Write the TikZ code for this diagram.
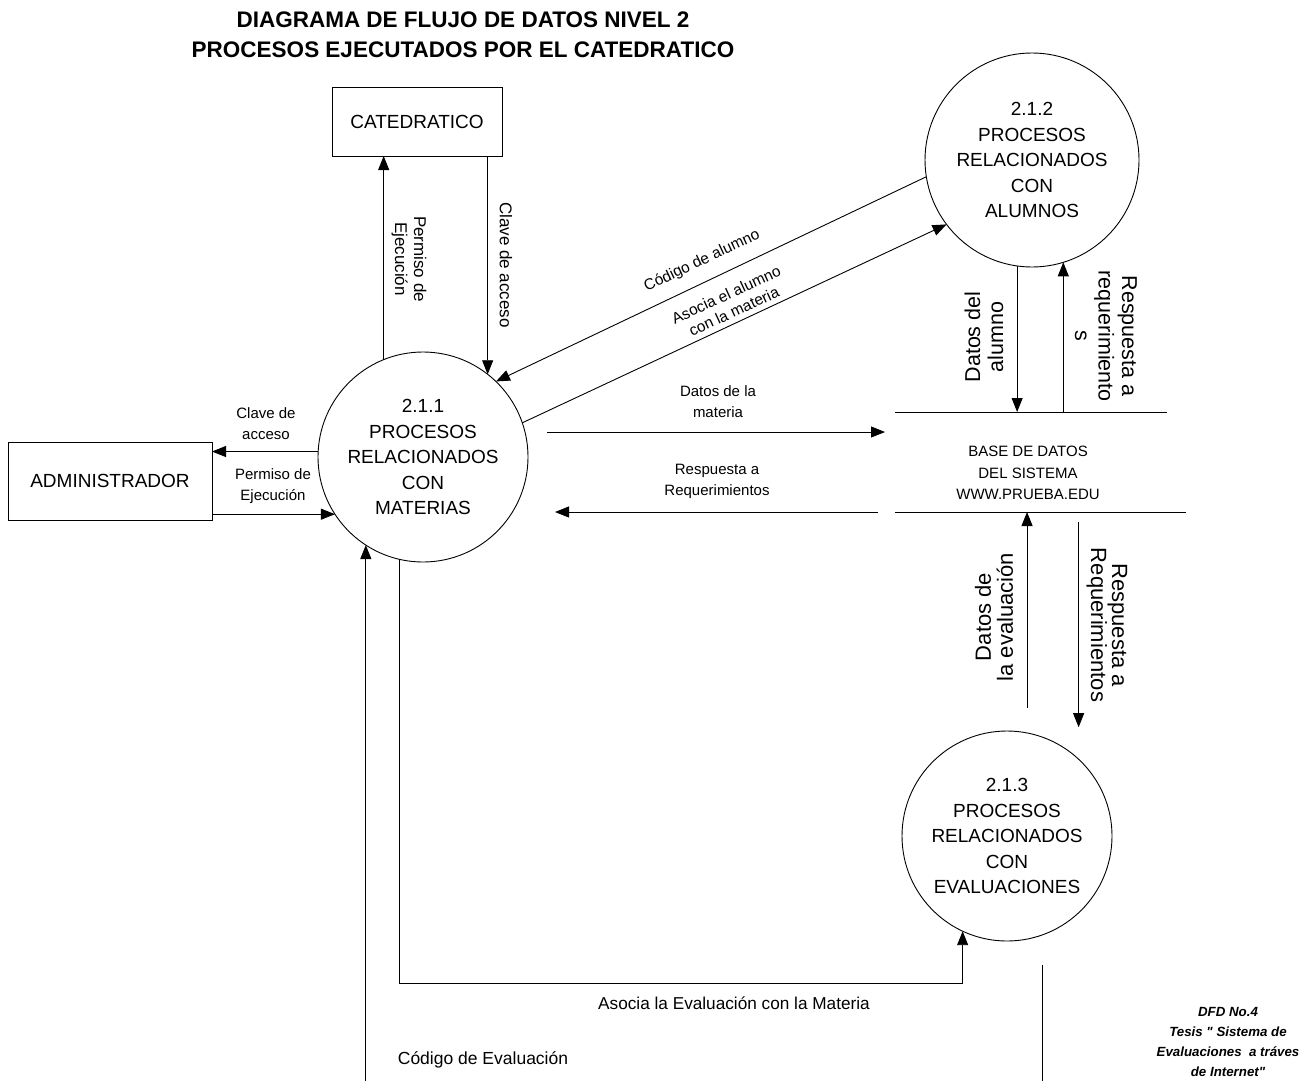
\documentclass[tikz,border=0pt]{standalone}
\usepackage{fontspec}
\setmainfont{Liberation Sans}
% plain family without TeX ligature mapping, so that " stays a straight quote
\newfontfamily\notefont{Liberation Sans}
\usetikzlibrary{arrows.meta}
\begin{document}
\begin{tikzpicture}[x=1pt,y=-1pt,
  flow/.style={line width=0.9pt,-{Triangle[length=14pt,width=11pt]}},
  plain/.style={line width=0.9pt},
  entity/.style={draw,line width=0.9pt,inner sep=0pt,outer sep=0pt,
    font=\fontsize{19}{23}\selectfont},
  proc/.style={draw,circle,line width=0.9pt,inner sep=0pt,outer sep=0pt,
    align=center,font=\fontsize{19}{25.5}\selectfont},
  lbl/.style={inner sep=0pt,align=center},
  small/.style={lbl,font=\fontsize{15}{21}\selectfont},
  mid/.style={lbl,font=\fontsize{17}{19}\selectfont},
  big/.style={lbl,font=\fontsize{21.5}{23}\selectfont}]
\useasboundingbox (0,0) rectangle (1313,1081);

% title
\node[lbl,font=\fontsize{22.5}{30}\selectfont\bfseries] (title) at (463,35)
  {DIAGRAMA DE FLUJO DE DATOS NIVEL 2\\PROCESOS EJECUTADOS POR EL CATEDRATICO};

% external entities
\node[entity,minimum width=170pt,minimum height=69pt] (cat) at (417,121.5) {CATEDRATICO};
\node[entity,minimum width=204pt,minimum height=78pt] (adm) at (110,481) {ADMINISTRADOR};

% processes
\node[proc,minimum size=210pt] (c211) at (423,457) {2.1.1\\PROCESOS\\RELACIONADOS\\CON\\MATERIAS};
\node[proc,minimum size=214pt] (c212) at (1032,160) {2.1.2\\PROCESOS\\RELACIONADOS\\CON\\ALUMNOS};
\node[proc,minimum size=210pt] (c213) at (1007,836) {2.1.3\\PROCESOS\\RELACIONADOS\\CON\\EVALUACIONES};

% data store
\node[inner sep=0pt,outer sep=0pt,minimum width=291pt,minimum height=100pt] (store) at (1040.5,462) {};
\draw[plain] (store.north west) -- ++(272,0);
\draw[plain] (store.south west) -- (store.south east);
\node[lbl,font=\fontsize{15}{21.5}\selectfont] (storelbl) at (1028,473)
  {BASE DE DATOS\\DEL SISTEMA\\WWW.PRUEBA.EDU};

% catedratico <-> 2.1.1
\draw[flow] (c211.112.4) -- (c211.112.4 |- cat.south);
\draw[flow] (cat.south -| c211.52.45) -- (c211.52.45);
\node[mid,rotate=-90] (lpe1) at (409,259) {Permiso de\\Ejecución};
\node[mid,rotate=-90] (lca1) at (506,265) {Clave de acceso};

% administrador <-> 2.1.1
\draw[flow] (c211.177.8) -- (c211.177.8 -| adm.east);
\draw[flow] (adm.east |- c211.213.5) -- (c211.213.5);
\node[small] (lca2) at (266,424) {Clave de\\acceso};
\node[small] (lpe2) at (273,486) {Permiso de\\Ejecución};

% 2.1.1 <-> data store
\draw[flow,shorten <=19pt,shorten >=10pt] (c211.east |- 0,432) -- (store.west |- 0,432);
\draw[flow,shorten <=17pt,shorten >=27pt] (store.south west) -- (store.south west -| c211.east);
\node[small] (ldm) at (718,402) {Datos de la\\materia};
\node[small] (lrr1) at (717,481) {Respuesta a\\Requerimientos};

% 2.1.1 <-> 2.1.2
\draw[flow] (c212.189) -- (c211.46.5);
\draw[flow] (c211.19.3) -- (c212.217.2);
\node[lbl,rotate=25.3,font=\fontsize{15.5}{20}\selectfont] (lcal) at (702,261) {Código de alumno};
\node[lbl,rotate=24.8,font=\fontsize{15.5}{18.5}\selectfont] (laam) at (730,303) {Asocia el alumno\\con la materia};

% 2.1.2 <-> data store
\draw[flow] (c212.262) -- (c212.262 |- store.north);
\draw[flow] (store.north -| c212.287.4) -- (c212.287.4);
\node[big,rotate=90] (lda) at (984,337) {Datos del\\alumno};
\node[big,rotate=-90,font=\fontsize{21.5}{23.5}\selectfont] (lrr2) at (1106,336) {Respuesta a\\requerimiento\\s};

% 2.1.3 <-> data store
\draw[flow,shorten <=25pt] (c213.79) -- (c213.79 |- store.south);
\draw[flow,shorten <=10pt,shorten >=32pt] (store.south -| c213.47.4) -- (c213.47.4);
\node[lbl,rotate=90,font=\fontsize{22}{22}\selectfont] (lde) at (994,617) {Datos de\\la evaluación};
\node[lbl,rotate=-90,font=\fontsize{22}{21}\selectfont] (lrr3) at (1107,625) {Respuesta a\\Requerimientos};

% 2.1.1 -> 2.1.3 and lower flows
\draw[flow] (c211.257.4) |- (c213.245.2 |- 0,983) -- (c213.245.2);
\node[lbl,font=\fontsize{17.2}{20}\selectfont] (laem) at (734,1003) {Asocia la Evaluación con la Materia};
\draw[flow] (c211.237.8 |- 0,1081) -- (c211.237.8);
\node[lbl,font=\fontsize{17.5}{20}\selectfont] (lce) at (483,1060) {Código de Evaluación};
\draw[plain,shorten <=30pt] (c213.290) -- (c213.290 |- 0,1081);

% caption
\node[lbl,font=\notefont\fontsize{13.3}{20}\selectfont\bfseries\itshape] (note) at (1228,1042)
  {DFD No.4\\Tesis " Sistema de\\Evaluaciones\ \ a tráves\\de Internet"};
\end{tikzpicture}
\end{document}
